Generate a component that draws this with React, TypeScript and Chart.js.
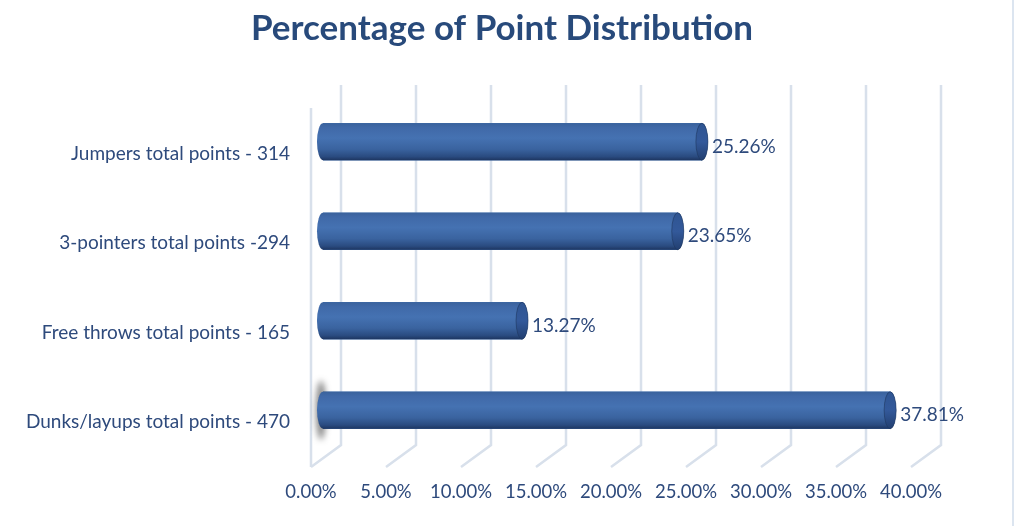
import React, { useEffect, useRef } from "react";
import { Chart, registerables } from "chart.js";

Chart.register(...registerables);

const categories = [
  "Jumpers total points - 314",
  "3-pointers total points -294",
  "Free throws total points - 165",
  "Dunks/layups total points - 470",
];
const percentValues = [25.26, 23.65, 13.27, 37.81];
const tickStep = 5;
const axisMax = 40;
const titleText = "Percentage of Point Distribution";

const FONT = "Lato, 'Open Sans', sans-serif";
const TEXT_COLOR = "#2E4A7C";
const GRID_COLOR = "#D8E0EB";

const depthGridPlugin = {
  id: "depthGrid",
  beforeDatasetsDraw(chart: any) {
    const { ctx, chartArea } = chart;
    const xs = chart.scales.x;
    const backTop = chartArea.top - 12;
    const backBottom = chartArea.bottom - 10;
    const frontTop = chartArea.top + 11;
    const frontBottom = chartArea.bottom + 12;
    ctx.save();
    ctx.strokeStyle = GRID_COLOR;
    ctx.lineWidth = 2.5;
    ctx.lineCap = "butt";
    for (let v = 0; v <= axisMax; v += tickStep) {
      const fx = xs.getPixelForValue(v) - 12;
      const bx = fx + 30;
      ctx.beginPath();
      ctx.moveTo(bx, backTop);
      ctx.lineTo(bx, backBottom);
      ctx.lineTo(fx, frontBottom);
      ctx.stroke();
      if (v === 0) {
        ctx.beginPath();
        ctx.moveTo(fx, frontTop);
        ctx.lineTo(fx, frontBottom);
        ctx.stroke();
      }
    }
    ctx.restore();
  },
};

const cylinderPlugin = {
  id: "cylinder",
  afterDatasetsDraw(chart: any) {
    const { ctx } = chart;
    const meta = chart.getDatasetMeta(0);
    const rx = 6;
    ctx.save();
    meta.data.forEach((el: any, i: number) => {
      const { x, y, base, height } = el.getProps(["x", "y", "base", "height"], true);
      const top = y - height / 2;
      const bottom = y + height / 2;
      const ry = height / 2;
      if (i === meta.data.length - 1) {
        ctx.save();
        ctx.filter = "blur(3px)";
        ctx.fillStyle = "rgba(50,50,50,0.6)";
        ctx.beginPath();
        ctx.ellipse(base - 2, y, rx - 1, ry + 11, 0, 0, Math.PI * 2);
        ctx.fill();
        ctx.restore();
      }
      const g = ctx.createLinearGradient(0, top, 0, bottom);
      g.addColorStop(0, "#3A629C");
      g.addColorStop(0.12, "#4069A8");
      g.addColorStop(0.4, "#4572B2");
      g.addColorStop(0.7, "#3A639F");
      g.addColorStop(0.9, "#2A4B80");
      g.addColorStop(1, "#1D3560");
      ctx.beginPath();
      ctx.moveTo(x, top);
      ctx.lineTo(base, top);
      ctx.ellipse(base, y, rx, ry, 0, -Math.PI / 2, Math.PI / 2, true);
      ctx.lineTo(x, bottom);
      ctx.ellipse(x, y, rx, ry, 0, Math.PI / 2, -Math.PI / 2, true);
      ctx.closePath();
      ctx.fillStyle = g;
      ctx.fill();
      const cg = ctx.createLinearGradient(0, top, 0, bottom);
      cg.addColorStop(0, "#2F5592");
      cg.addColorStop(0.5, "#33599A");
      cg.addColorStop(1, "#223F70");
      ctx.beginPath();
      ctx.ellipse(x, y, rx, ry, 0, 0, Math.PI * 2);
      ctx.fillStyle = cg;
      ctx.fill();
      ctx.strokeStyle = "rgba(30,55,95,0.6)";
      ctx.lineWidth = 1;
      ctx.stroke();
      ctx.fillStyle = TEXT_COLOR;
      ctx.font = `19px ${FONT}`;
      ctx.textAlign = "left";
      ctx.textBaseline = "middle";
      ctx.fillText(percentValues[i].toFixed(2) + "%", x + 10, y + 5);
    });
    ctx.restore();
  },
};

export default function App() {
  const canvasRef = useRef<HTMLCanvasElement | null>(null);

  useEffect(() => {
    document.body.style.margin = "0";
    const canvas = canvasRef.current;
    if (!canvas) return;
    const chart = new Chart(canvas, {
      type: "bar",
      data: {
        labels: categories,
        datasets: [
          {
            data: percentValues,
            backgroundColor: "#4270AE",
            borderWidth: 0,
            barThickness: 37,
          },
        ],
      },
      options: {
        indexAxis: "y",
        animation: false,
        responsive: false,
        maintainAspectRatio: false,
        layout: { padding: { left: 0, right: 20, top: 0, bottom: 0 } },
        plugins: {
          legend: { display: false },
          tooltip: { enabled: false },
          title: {
            display: true,
            text: titleText,
            color: "#284A7B",
            font: { family: FONT, size: 35, weight: "bold", lineHeight: 1.2 },
            padding: { top: 8, bottom: 47 },
          },
        },
        scales: {
          x: {
            type: "linear",
            min: 0,
            max: axisMax,
            grid: { display: false, drawTicks: false },
            border: { display: false },
            ticks: {
              stepSize: tickStep,
              padding: 26,
              labelOffset: -12,
              color: TEXT_COLOR,
              font: { family: FONT, size: 18.5, lineHeight: 1.2 },
              callback: (v: any) => Number(v).toFixed(2) + "%",
            },
            afterFit: (s: any) => {
              s.height = 71;
            },
          },
          y: {
            type: "category",
            grid: { display: false, drawTicks: false },
            border: { display: false },
            ticks: {
              padding: 33,
              labelOffset: 12,
              color: TEXT_COLOR,
              font: { family: FONT, size: 19, lineHeight: 1.2 },
            },
            afterFit: (s: any) => {
              s.width = 323;
            },
          },
          spare: {
            type: "linear",
            position: "right",
            axis: "y",
            min: 0,
            max: 1,
            grid: { display: false, drawTicks: false },
            border: { display: false },
            ticks: { display: false },
            afterFit: (s: any) => {
              s.width = 81;
            },
          },
        },
      } as any,
      plugins: [depthGridPlugin, cylinderPlugin],
    });
    return () => chart.destroy();
  }, []);

  return (
    <div style={{ position: "relative", width: 1024, height: 526, background: "#fff" }}>
      <canvas ref={canvasRef} width={1024} height={526} style={{ display: "block" }} />
      <div
        style={{
          position: "absolute",
          left: 1012,
          top: 0,
          width: 2,
          height: 526,
          background: "#DCE5F0",
        }}
      />
    </div>
  );
}
